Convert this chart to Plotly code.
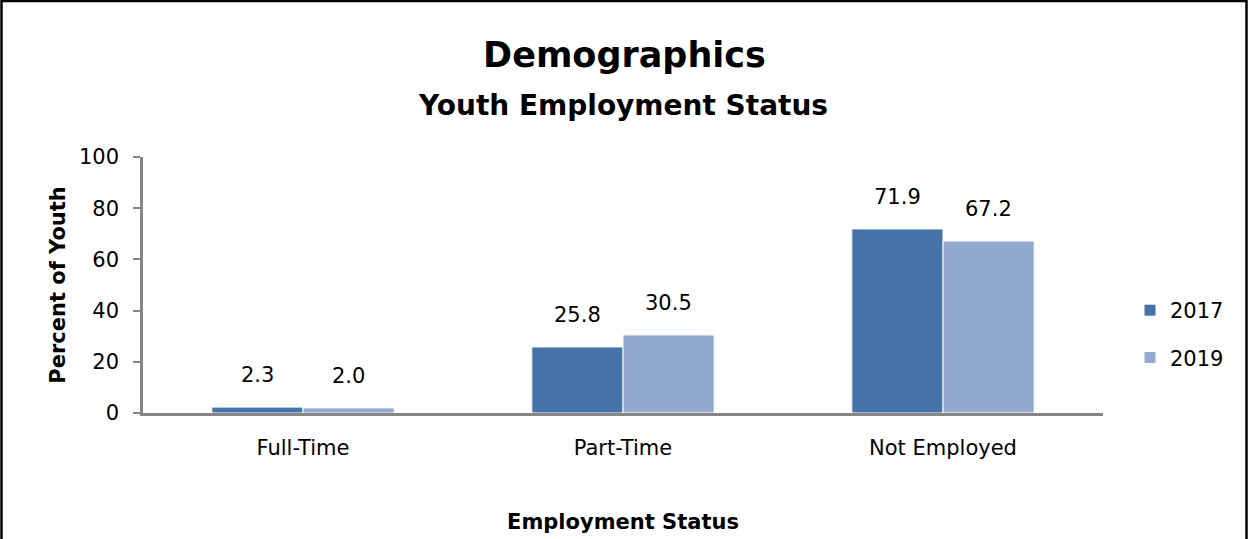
import plotly.graph_objects as go

# ---- data ----
categories = ["Full-Time", "Part-Time", "Not Employed"]
series_names = ["2017", "2019"]
values_2017 = [2.3, 25.8, 71.9]
values_2019 = [2.0, 30.5, 67.2]
y_tick_values = [0, 20, 40, 60, 80, 100]

title_text = "Demographics"
subtitle_text = "Youth Employment Status"
x_title = "Employment Status"
y_title = "Percent of Youth"

# ---- style ----
colors = {"2017": "#4572A7", "2019": "#94A9CF"}
FONT = "DejaVu Sans, sans-serif"
AXIS_GRAY = "#868686"
REG = 21

W, H = 1249, 539
L, R, T, B = 143, 146, 157, 126
plot_w = W - L - R
plot_h = H - T - B
bargap = 0.43

series = [("2017", values_2017), ("2019", values_2019)]

fig = go.Figure()
for name, vals in series:
    fig.add_trace(go.Bar(
        name=name, x=categories, y=vals,
        marker=dict(color=colors[name], line=dict(color="white", width=1)),
        legendgroup=name,
        hovertemplate="%{x}: %{y:.1f}<extra>" + name + "</extra>",
    ))

# data labels above bars
bar_w = (1 - bargap) / len(series)
for k, (name, vals) in enumerate(series):
    for i, v in enumerate(vals):
        fig.add_annotation(
            x=i - (1 - bargap) / 2 + bar_w * (k + 0.5), y=v,
            xref="x", yref="y", text=f"{v:.1f}", showarrow=False,
            yanchor="middle", yshift=32,
            font=dict(family=FONT, size=REG, color="black"),
        )

# subtitle
fig.add_annotation(
    x=0.5, y=(H - B - 105) / plot_h, xref="paper", yref="paper",
    text=f"<b>{subtitle_text}</b>", showarrow=False, yanchor="middle",
    font=dict(family=FONT, size=28, color="black"),
)

# outer chart border
fig.add_shape(
    type="rect", xref="paper", yref="paper",
    x0=(1.5 - L) / plot_w, x1=(W - 2.5 - L) / plot_w,
    y0=-(B + 20) / plot_h, y1=(H - B - 1) / plot_h,
    line=dict(color="black", width=2.5), fillcolor="rgba(0,0,0,0)",
    layer="below",
)

fig.update_layout(
    width=W, height=H,
    margin=dict(l=L, r=R, t=T, b=B, autoexpand=False),
    paper_bgcolor="white", plot_bgcolor="white",
    barmode="group", bargap=bargap, bargroupgap=0,
    font=dict(family=FONT, size=REG, color="black"),
    title=dict(
        text=f"<b>{title_text}</b>", x=0.5, xref="container", xanchor="center",
        y=1 - 55 / H, yref="container", yanchor="middle",
        font=dict(family=FONT, size=35, color="black"),
    ),
    showlegend=True,
    legend=dict(
        x=(1130 - L) / plot_w, y=(H - B - 290) / plot_h,
        xanchor="left", yanchor="top",
        font=dict(family=FONT, size=REG, color="black"),
        tracegroupgap=17, bgcolor="rgba(0,0,0,0)",
        itemclick=False, itemdoubleclick=False,
    ),
    xaxis=dict(
        showline=True, linecolor=AXIS_GRAY, linewidth=3,
        ticks="outside", ticklen=14, tickcolor="rgba(0,0,0,0)",
        tickfont=dict(family=FONT, size=REG, color="black"),
        title=dict(text=f"<b>{x_title}</b>", standoff=56,
                   font=dict(family=FONT, size=REG, color="black")),
        showgrid=False, zeroline=False,
    ),
    yaxis=dict(
        range=[0, 100], tickvals=y_tick_values,
        showline=True, linecolor=AXIS_GRAY, linewidth=2.5,
        ticks="outside", ticklen=7, tickcolor=AXIS_GRAY, tickwidth=2,
        ticklabelstandoff=10,
        tickfont=dict(family=FONT, size=REG, color="black"),
        title=dict(text=f"<b>{y_title}</b>", standoff=8,
                   font=dict(family=FONT, size=REG, color="black")),
        showgrid=False, zeroline=False,
    ),
)

fig.write_html(
    "out.html",
    config={"displayModeBar": False},
    post_script="document.body.style.margin='0';document.body.style.overflow='hidden';",
)
